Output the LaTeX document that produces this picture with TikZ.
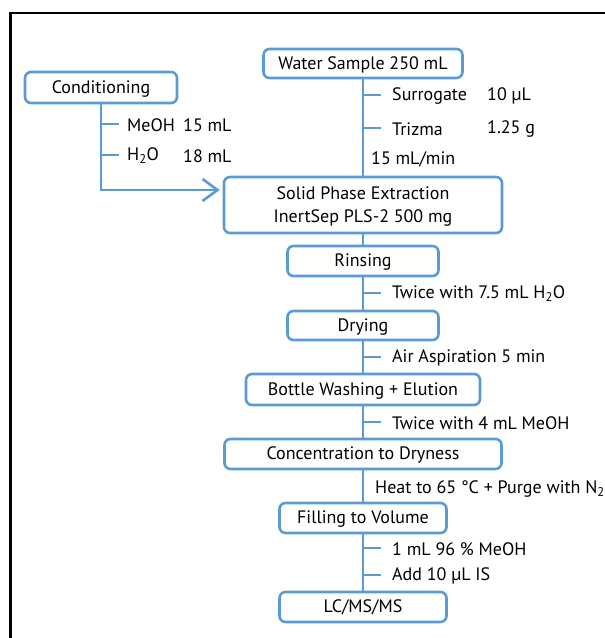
\documentclass[tikz,border=0pt]{standalone}
\usepackage{fontspec}
\setmainfont{PT Sans}
\usetikzlibrary{arrows.meta}
\definecolor{flowblue}{RGB}{91,155,213}
\begin{document}
\begin{tikzpicture}[x=1pt,y=-1pt,
  box/.style={draw=flowblue,line width=2.6pt,rounded corners=6pt,fill=white,
    inner sep=0pt,align=center,text depth=1pt,font=\fontsize{18}{23}\selectfont},
  conn/.style={draw=flowblue,line width=2.6pt},
  lbl/.style={anchor=west,inner sep=0pt,font=\fontsize{18}{23}\selectfont},
]
\useasboundingbox (0,0) rectangle (605,638);
\clip (0,0) rectangle (605,638);
\fill[white] (0,0) rectangle (605,638);
% outer frame (runs out of the picture on the right and bottom)
\draw[line width=2.6pt,black] (10.5,700) -- (10.5,13) -- (700,13);

% boxes
\node[box,minimum width=152pt,minimum height=31pt] (cond) at (101,87.5) {Conditioning};
\node[box,minimum width=199pt,minimum height=29pt] (water) at (363,63.5) {Water Sample 250 mL};
\node[box,minimum width=278pt,minimum height=56pt] (spe) at (363,205) {Solid Phase Extraction\\InertSep PLS-2 500 mg};
\node[box,minimum width=151pt,minimum height=30pt] (rins) at (363,261) {Rinsing};
\node[box,minimum width=151pt,minimum height=29pt] (dry) at (363,325.5) {Drying};
\node[box,minimum width=234pt,minimum height=31pt] (bottle) at (363,389.5) {Bottle Washing + Elution};
\node[box,minimum width=277pt,minimum height=30pt] (conc) at (363,454) {Concentration to Dryness};
\node[box,minimum width=167pt,minimum height=30pt] (fill) at (363,518) {Filling to Volume};
\node[box,minimum width=167pt,minimum height=30pt] (lc) at (363,607) {LC/MS/MS};

% main connectors
\draw[conn] (water) -- (spe);
\draw[conn] (spe) -- (rins);
\draw[conn] (rins) -- (dry);
\draw[conn] (dry) -- (bottle);
\draw[conn] (bottle) -- (conc);
\draw[conn] (conc) -- (fill);
\draw[conn] (fill) -- (lc);

% conditioning branch
\draw[conn,-{Straight Barb[length=15pt,width=22pt,line width=2.6pt]}]
  (cond.south) |- ([xshift=-3pt,yshift=15pt]spe.west);

% ticks
\coordinate (tc1) at (119,124);
\coordinate (tc2) at (119,155);
\draw[conn] (tc1 -| cond.south) -- (tc1);
\draw[conn] (tc2 -| cond.south) -- (tc2);
\coordinate (tw1) at (381,95);
\coordinate (tw2) at (381,128);
\draw[conn] (tw1 -| water.south) -- (tw1);
\draw[conn] (tw2 -| water.south) -- (tw2);
\coordinate (tr1) at (381,293);
\draw[conn] (tr1 -| rins.south) -- (tr1);
\coordinate (td1) at (381,357);
\draw[conn] (td1 -| dry.south) -- (td1);
\coordinate (tb1) at (381,422);
\draw[conn] (tb1 -| bottle.south) -- (tb1);
\coordinate (tf1) at (381,548);
\coordinate (tf2) at (381,575);
\draw[conn] (tf1 -| fill.south) -- (tf1);
\draw[conn] (tf2 -| fill.south) -- (tf2);

% labels
\node[lbl] (l1a) at (127,125) {MeOH};
\node[lbl] (l1b) at (183,125) {15 mL};
\node[lbl] (l2a) at (127,156) {H\textsubscript{2}O};
\node[lbl] (l2b) at (183,156) {18 mL};
\node[lbl] (l3a) at (392,96) {Surrogate};
\node[lbl] (l3b) at (487,96) {10 µL};
\node[lbl] (l4a) at (392,129) {Trizma};
\node[lbl] (l4b) at (487,129) {1.25 g};
\node[lbl] (l5) at (371,159) {15 mL/min};
\node[lbl] (l6) at (392,294) {Twice with 7.5 mL H\textsubscript{2}O};
\node[lbl] (l7) at (392,358) {Air Aspiration 5 min};
\node[lbl] (l8) at (392,423) {Twice with 4 mL MeOH};
\node[lbl] (l9) at (375,489) {Heat to 65 °C + Purge with N\textsubscript{2}};
\node[lbl] (l10) at (392,549) {1 mL 96 \% MeOH};
\node[lbl] (l11) at (392,576) {Add 10 µL IS};
\end{tikzpicture}
\end{document}
